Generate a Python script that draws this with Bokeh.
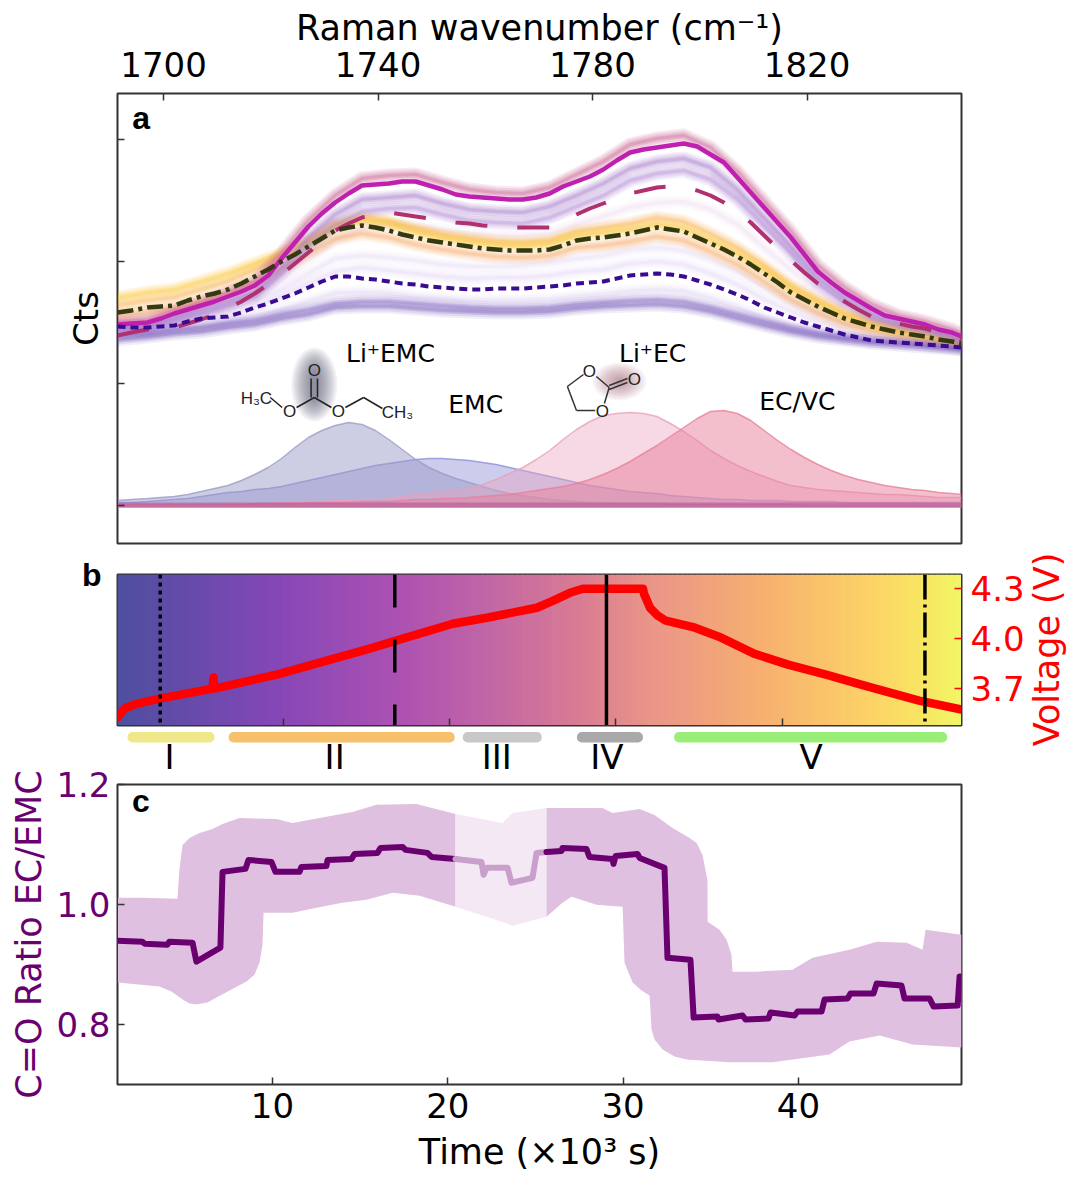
from bokeh.embed import file_html
from bokeh.layouts import column, row
from bokeh.models import BoxAnnotation, FixedTicker, Label, LinearAxis, Range1d
from bokeh.plotting import figure
from bokeh.resources import INLINE
import numpy as np

# panel a, spectra (counts, arbitrary units)
wavenumber = [1691.4, 1697, 1702, 1707, 1712, 1717, 1722, 1727, 1732, 1737, 1742, 1747, 1752, 1757, 1762, 1767, 1772,
              1777, 1782, 1787, 1792, 1797, 1802, 1807, 1812, 1817, 1822, 1827, 1832, 1837, 1842, 1847, 1848.8]
wavenumber_fine = [1691.4, 1694] + [1697 + 2.5 * i for i in range(61)] + [1848.8]
spec_solid = [181, 182, 183, 187, 192, 196, 200, 204, 209, 214, 220, 230, 247, 263, 279, 292, 303, 312, 320, 321,
              322, 324, 324, 320, 316, 311, 309, 308, 307, 306, 306, 308, 312, 319, 324, 329, 336, 345, 353, 356,
              358, 360, 362, 359, 351, 343, 328, 313, 298, 283, 268, 251, 234, 223, 213, 205, 197, 190, 187, 184,
              181, 176, 173, 169]
spec_dash = [170, 173, 176, 177, 178, 182, 186, 191, 197, 204, 212, 221, 231, 242, 253, 264, 275, 282, 288, 291,
             293, 291, 289, 287, 285, 283, 282, 280, 279, 278, 278, 278, 278, 284, 291, 297, 302, 307, 312, 315,
             318, 319, 318, 315, 310, 303, 294, 283, 270, 257, 245, 233, 222, 213, 204, 196, 189, 185, 182, 179,
             177, 173, 170, 166]
spec_dashdot = [193, 195, 198, 199, 200, 205, 209, 212, 216, 222, 229, 236, 244, 251, 259, 267, 275, 278, 280, 278,
                275, 271, 268, 265, 263, 261, 259, 257, 256, 255, 255, 255, 256, 260, 265, 267, 268, 270, 272, 275,
                278, 276, 274, 268, 262, 256, 249, 241, 232, 223, 213, 206, 199, 193, 187, 183, 179, 176, 173, 171,
                169, 166, 164, 162]
spec_dot = [179, 178, 178, 179, 180, 184, 187, 188, 189, 193, 198, 202, 207, 212, 218, 224, 229, 229, 227, 226,
            224, 222, 221, 219, 218, 217, 216, 216, 217, 217, 217, 218, 219, 220, 222, 223, 224, 227, 230, 231,
            232, 231, 229, 225, 221, 216, 211, 205, 198, 193, 188, 183, 179, 175, 171, 168, 165, 164, 163, 162,
            161, 160, 159, 158]
spec_low = [166, 169, 172, 174, 178, 181, 187, 191, 198, 199, 199, 197, 195, 194, 193, 193, 194, 197, 199, 200, 201, 199, 194, 187, 180, 174, 169, 166, 163, 161, 159, 157, 156]
spec_pink = [184, 186, 195, 203, 213, 224, 252, 285, 310, 327, 330, 331, 323, 316, 313, 312, 318, 331, 344, 361, 367, 370, 358, 334, 304, 274, 240, 218, 201, 190, 184, 176, 172]
spec_purple1 = [178, 180, 188, 196, 204, 214, 238, 268, 291, 306, 308, 310, 302, 296, 294, 293, 299, 310, 322, 337, 344, 347, 338, 316, 288, 259, 228, 208, 192, 183, 177, 170, 166]
spec_purple2 = [176, 178, 185, 192, 200, 209, 232, 259, 280, 294, 297, 298, 291, 285, 283, 282, 288, 299, 310, 325, 332, 335, 326, 306, 279, 252, 222, 203, 188, 180, 175, 168, 164]
spec_lav1 = [175, 178, 182, 189, 197, 210, 226, 246, 265, 278, 281, 279, 275, 272, 270, 270, 272, 281, 289, 298, 303, 304, 296, 281, 258, 236, 214, 197, 184, 177, 172, 166, 163]
spec_orange1 = [200, 205, 208, 216, 224, 236, 250, 264, 281, 288, 284, 277, 271, 267, 264, 263, 265, 274, 278, 282, 288, 284, 272, 258, 240, 220, 205, 192, 183, 176, 171, 166, 163]
spec_yellow = [208, 213, 216, 224, 232, 242, 252, 264, 279, 286, 282, 274, 268, 264, 261, 260, 262, 270, 273, 276, 281, 277, 265, 252, 236, 217, 203, 190, 181, 175, 170, 165, 162]
spec_orange2 = [190, 194, 197, 204, 211, 222, 237, 252, 267, 272, 268, 261, 256, 252, 249, 248, 250, 258, 260, 264, 269, 265, 254, 241, 224, 206, 193, 182, 175, 170, 166, 162, 160]
spec_lav2 = [178, 180, 184, 191, 195, 205, 216, 232, 247, 250, 248, 245, 241, 239, 239, 240, 243, 247, 250, 256, 258, 255, 246, 234, 218, 204, 192, 182, 174, 169, 165, 161, 159]
spec_lav3 = [175, 176, 180, 186, 190, 199, 209, 222, 234, 238, 235, 232, 229, 227, 228, 228, 230, 234, 236, 242, 244, 241, 232, 221, 206, 194, 184, 175, 168, 165, 162, 159, 158]
spec_lav4 = [170, 172, 175, 179, 183, 189, 196, 204, 212, 213, 212, 209, 207, 205, 205, 205, 206, 209, 211, 214, 216, 214, 207, 198, 188, 180, 173, 168, 164, 162, 160, 158, 157]
spec_purple3 = [170, 172, 176, 178, 182, 185, 191, 196, 202, 204, 204, 202, 200, 198, 197, 197, 198, 201, 203, 205, 206, 204, 198, 191, 184, 177, 172, 168, 165, 163, 161, 158, 157]

# panel a, fitted peaks
peak_li_emc = [5, 6, 7, 8, 9, 11, 14, 17, 20, 25, 31, 38, 47, 58, 68, 75, 80, 83, 81, 75,
               66, 56, 46, 38, 32, 27, 23, 19, 15, 12, 10, 8, 6, 5, 4, 3, 3, 2, 2, 2,
               2, 1, 1, 1, 1, 1, 1, 1, 1, 1, 1, 0, 0, 0, 0, 0, 0, 0, 0, 0, 0, 0, 0, 0]
peak_emc = [3, 3, 4, 5, 6, 7, 9, 11, 13, 14, 16, 17, 19, 22, 25, 28, 31, 34, 37, 40,
            42, 44, 46, 47, 47, 46, 45, 43, 41, 38, 35, 32, 29, 26, 23, 20, 18, 16, 14, 13,
            12, 10, 9, 8, 7, 6, 6, 5, 5, 5, 4, 4, 4, 4, 3, 3, 3, 3, 3, 3, 3, 3, 3, 3]
peak_li_ec = [1, 1, 1, 1, 1, 1, 1, 1, 2, 2, 2, 2, 3, 3, 4, 4, 5, 5, 6, 6,
              7, 9, 11, 12, 14, 15, 17, 21, 26, 32, 38, 46, 55, 66, 76, 84, 90, 92, 93, 92,
              89, 82, 74, 65, 55, 47, 40, 34, 29, 24, 20, 18, 16, 15, 14, 13, 12, 11, 11, 10, 9, 8, 8, 8]
peak_ec_vc = [1, 1, 1, 1, 1, 1, 1, 1, 1, 1, 2, 2, 2, 2, 3, 3, 3, 3, 4, 4,
              4, 5, 6, 6, 7, 7, 8, 9, 10, 11, 13, 15, 17, 19, 22, 26, 31, 37, 44, 52,
              60, 69, 78, 87, 94, 95, 92, 85, 75, 65, 56, 48, 41, 35, 30, 26, 23, 20, 18, 16, 15, 13, 12, 11]

# panel b, voltage profile
volt_time = [0, 0.06, 0.42, 1.2, 2.53, 5.72, 5.78, 5.84, 7.17, 9.58, 12.17, 15.18, 17.17, 20.18, 22.23, 25.24, 26.2, 27.23, 28.0,
             31.63, 31.69, 32.05, 32.5, 33.0, 34.76, 36.2, 38.31, 40.36, 42.65, 45.18, 48.25, 50.8]
volt = [3.526, 3.538, 3.58, 3.61, 3.64, 3.70, 3.766, 3.70, 3.73, 3.784, 3.856, 3.94, 4.0, 4.09, 4.126, 4.186, 4.228, 4.276, 4.30,
        4.30, 4.27, 4.186, 4.14, 4.108, 4.066, 4.012, 3.91, 3.844, 3.784, 3.712, 3.628, 3.574]
marker_time = [2.57, 16.69, 29.43, 48.6]
phase_names = ["I", "II", "III", "IV", "V"]
phase_start = [0.6, 6.69, 20.78, 27.65, 33.5]
phase_end = [5.84, 20.3, 25.54, 31.63, 49.94]
phase_mid = [3.13, 13.07, 22.83, 29.46, 41.75]

# panel c, C=O ratio
ratio_time = [1.16, 2.58, 2.70, 4.01, 4.12, 5.44, 5.66, 7.03, 7.15, 8.46, 8.63, 9.94, 10.17, 11.54, 11.65, 13.08, 13.14, 14.51,
              14.68, 15.99, 16.16, 17.42, 17.59, 18.84, 19.07, 20.44, 21.92, 22.04, 22.21, 23.41, 23.63, 24.83, 25.06, 25.63,
              26.49, 26.54, 27.91, 28.08, 29.39, 29.45, 29.57, 30.82, 30.94, 32.36, 32.53, 33.84, 34.02, 35.38, 35.44, 36.81,
              36.98, 38.29, 38.41, 39.78, 39.95, 41.32, 41.49, 42.8, 42.97, 44.28, 44.46, 45.88, 46.05, 47.48, 47.71, 49.08, 49.19, 49.3]
ratio = [.9397, .938, .9347, .933, .938, .9363, .9047, .928, 1.0544, 1.0594, 1.0743, 1.071, 1.0544, 1.0544, 1.0627, 1.0643, 1.0743, 1.076,
         1.0843, 1.086, 1.0943, 1.096, 1.091, 1.086, 1.0793, 1.076, 1.071, 1.0496, 1.0613, 1.0613, 1.0363, 1.0444, 1.086, 1.0876,
         1.0893, 1.0943, 1.0926, 1.0793, 1.076, 1.0677, 1.081, 1.0843, 1.0776, 1.061, .9112, .9081, .8117, .8133, .8083, .815,
         .8083, .81, .82, .815, .8216, .8216, .8416, .8432, .8516, .8516, .8682, .8649, .8432, .8432, .8299, .8316, .88, .88]
upper_time = [1.16, 2.58, 4.58, 4.69, 4.87, 5.27, 5.84, 6.58, 7.15, 8.12, 10.23, 11.14, 12.68, 14.56, 15.93, 18.21, 20.44, 23.12, 23.69, 25.63, 28.82,
              29.40, 30.94, 31.79, 32.82, 33.79, 34.19, 34.53, 34.81, 34.82, 35.5, 35.9, 36.18, 36.24, 37.61, 39.66, 40.8, 42.91, 44.46, 46.17, 47.08, 47.25, 49.3]
upper = [1.0111, 1.0111, 1.0095, 1.0579, 1.0993, 1.1109, 1.1193, 1.1259, 1.1342, 1.1441, 1.1425, 1.1358, 1.1441, 1.1541, 1.1661, 1.1677, 1.1508, 1.1358, 1.1525, 1.1608, 1.1608,
         1.1525, 1.1591, 1.1491, 1.1275, 1.1109, 1.1026, 1.0826, 1.041, .9713, .958, .9413, .9164, .8881, .8881, .8914, .9114, .9247, .938, .9363, .9247, .958, .9496]
lower_time = [1.16, 3.55, 4.24, 4.87, 5.27, 5.66, 6.29, 6.81, 7.66, 8.52, 8.97, 9.26, 9.43, 9.49, 11.14, 12.51, 13.99, 15.36, 16.85, 18.39, 20.44, 22.21, 23.69, 25.63,
              26.54, 27.06, 28.48, 29.97, 30.08, 30.54, 31.05, 31.51, 31.62, 31.79, 32.25, 32.93, 33.62, 36.07, 38.52, 41.77, 42.91, 44.63, 46.51, 49.3]
lower = [.8698, .8632, .8549, .8416, .8349, .8332, .8366, .8449, .8582, .8715, .8831, .9031, .933, .9864, .9864, .9947, 1.0028, 1.0078, 1.0195, 1.0145, .9962, .9796, .9646, .9796,
         1.0028, 1.013, .9997, .9963, .9031, .8698, .8567, .8482, .7917, .775, .7584, .7468, .7418, .7369, .7369, .7501, .7717, .7817, .7667, .7617]

FONT = "DejaVu Sans"
FRAME = "#333333"
LEFT, RIGHT = 117, 110
FRAME_W = 844


def style_axis(ax, size="34px", title_size="35px"):
    ax.major_tick_in = 7
    ax.major_tick_out = 0
    ax.minor_tick_line_color = None
    ax.axis_line_color = FRAME
    ax.major_tick_line_color = FRAME
    ax.major_tick_line_width = 1.5
    ax.major_label_text_font = FONT
    ax.major_label_text_font_size = size
    ax.major_label_text_color = "black"
    ax.axis_label_text_font = FONT
    ax.axis_label_text_font_size = title_size
    ax.axis_label_text_font_style = "normal"
    ax.axis_label_text_color = "black"


def panel_label(f, text, x, y):
    f.add_layout(Label(x=x, y=y, text=text, text_font="Liberation Sans", text_font_style="bold",
                       text_font_size="32px", text_align="center", text_baseline="middle", text_color="black"))


def note(f, text, x, y, size="25px", font=FONT, color="black", angle=0):
    f.add_layout(Label(x=x, y=y, text=text, text_font=font, text_font_size=size, text_color=color, angle=angle,
                       text_align="center", text_baseline="middle"))


# ---- panel a
a = figure(width=LEFT + FRAME_W + RIGHT, height=549, output_backend="svg", toolbar_location=None,
           x_range=Range1d(1691.4, 1848.8), y_range=Range1d(-38, 412),
           x_axis_location="above", min_border_left=LEFT, min_border_right=RIGHT, min_border_top=93, min_border_bottom=6)
a.grid.visible = False
a.outline_line_color = FRAME
a.outline_line_width = 2
style_axis(a.xaxis[0])
style_axis(a.yaxis[0], title_size="34px")
a.xaxis.axis_label = "Raman wavenumber (cm⁻¹)"
a.xaxis.ticker = FixedTicker(ticks=[1700, 1740, 1780, 1820])
a.xaxis.major_label_standoff = 17
a.xaxis.axis_label_standoff = 1
a.yaxis.axis_label = "Cts"
a.yaxis.axis_label_standoff = 12
a.yaxis.ticker = FixedTicker(ticks=[0, 122, 244, 366])
a.yaxis.major_label_overrides = {0: "", 122: "", 244: "", 366: ""}

faint = [(spec_lav4, "#c9b4e6", 1), (spec_lav3, "#d4c0ec", 1), (spec_lav2, "#d8c4ee", 1), (spec_lav1, "#e4c8e8", 1),
         (spec_orange2, "#f6a860", 2), (spec_orange1, "#f8b050", 2), (spec_yellow, "#fcca40", 2.4),
         (spec_purple2, "#a878d0", 1.8), (spec_purple1, "#a070c8", 2), (spec_pink, "#c85c90", 2.2),
         (spec_purple3, "#7c5cc0", 1.6), (spec_low, "#6c4cb4", 1.6)]
for series, colour, strength in faint:
    for lw, alpha in [(14, 0.06), (10, 0.08), (6, 0.09), (3, 0.12)]:
        a.line(wavenumber, series, line_color=colour, line_width=lw, line_alpha=alpha * strength, line_join="round")

a.line(wavenumber_fine, spec_solid, line_color="#c020b0", line_width=4.5, line_join="round")
a.line(wavenumber_fine, spec_dash, line_color="#b03070", line_width=4, line_dash=[32, 30])
a.line(wavenumber_fine, spec_dashdot, line_color="#333a10", line_width=4.5, line_dash=[16, 5, 4, 5])
a.line(wavenumber_fine, spec_dot, line_color="#3a0a90", line_width=4, line_dash=[8, 5])

base = np.full(len(wavenumber_fine), -2)
for peak, colour, alpha in [(peak_emc, "#8f8fd8", 0.45), (peak_li_emc, "#9c9cc8", 0.5),
                            (peak_li_ec, "#e8a0bc", 0.4), (peak_ec_vc, "#e8809c", 0.5)]:
    a.varea(wavenumber_fine, base, peak, fill_color=colour, fill_alpha=alpha)
    a.line(wavenumber_fine, peak, line_color=colour, line_width=1.5, line_alpha=0.8)
a.varea(wavenumber_fine, base, np.full(len(wavenumber_fine), 3), fill_color="#b04890", fill_alpha=0.5)

note(a, "Li⁺EMC", 1742.3, 152)
note(a, "EMC", 1758.2, 101)
note(a, "Li⁺EC", 1791.2, 152)
note(a, "EC/VC", 1818.2, 104)
panel_label(a, "a", 1695.8, 388)

# molecules with their soft highlight
for w, h in zip(np.linspace(46, 6, 12), np.linspace(74, 30, 12)):
    a.ellipse(1728.1, 121, width=w, height=h, width_units="screen", height_units="screen",
              fill_color="#444460", fill_alpha=0.07, line_color=None)
for w, h in zip(np.linspace(54, 6, 12), np.linspace(38, 6, 12)):
    a.ellipse(1785, 124, width=w, height=h, width_units="screen", height_units="screen",
              fill_color="#a0506a", fill_alpha=0.06, line_color=None)

emc_x0 = [1727.5, 1728.7, 1728.1, 1722.1, 1728.1, 1733.9, 1737.3]
emc_y0 = [127, 127, 108, 98, 108, 98, 108]
emc_x1 = [1727.5, 1728.7, 1724.8, 1719.9, 1731.3, 1737.3, 1740.8]
emc_y1 = [108, 108, 98, 108, 98, 108, 97]
a.segment(emc_x0, emc_y0, emc_x1, emc_y1, line_color="#222222", line_width=1.5)
ec_x0 = [1780.7, 1783.1, 1780.5, 1777, 1775.3, 1783.1, 1783.1]
ec_y0 = [129, 118, 95, 95, 119, 116, 120]
ec_x1 = [1783.1, 1782.2, 1777, 1775.3, 1778.3, 1786.5, 1786.5]
ec_y1 = [118, 102, 95, 119, 131, 123, 127]
a.segment(ec_x0, ec_y0, ec_x1, ec_y1, line_color="#333333", line_width=1.5)
for x, y, text in [(1728.1, 135, "O"), (1723.5, 94, "O"), (1732.6, 94, "O"), (1717.3, 107, "H₃C"), (1743.6, 93, "CH₃"),
                   (1779.4, 134, "O"), (1781.8, 94, "O"), (1787.8, 126, "O")]:
    note(a, text, x, y, size="17px", font="Liberation Sans", color="#222222")

# ---- panel b
B_RIGHT = 66
time_range = Range1d(0, 50.8)
b = figure(width=LEFT + FRAME_W + B_RIGHT, height=178, output_backend="svg", toolbar_location=None,
           x_range=time_range, y_range=Range1d(3.478, 4.386),
           y_axis_location="right", min_border_left=LEFT, min_border_right=B_RIGHT, min_border_top=25, min_border_bottom=2)
b.grid.visible = False
b.outline_line_color = FRAME
b.outline_line_width = 2
style_axis(b.xaxis[0])
style_axis(b.yaxis[0])
b.xaxis.ticker = FixedTicker(ticks=[10, 20, 30, 40])
b.xaxis.major_label_overrides = {10: "", 20: "", 30: "", 40: ""}
b.xaxis.major_label_standoff = 0
b.yaxis.ticker = FixedTicker(ticks=[3.7, 4.0, 4.3])
b.yaxis.major_label_text_color = "#ff0000"
b.yaxis.major_tick_line_color = "#ff0000"
b.yaxis.major_label_standoff = 9
b.yaxis.major_label_overrides = {3.7: "3.7", 4.0: "4.0", 4.3: "4.3"}

# the panel letter sits left of the frame, so it goes on a bare left axis
b_letter = LinearAxis(ticker=FixedTicker(ticks=[4.38]), major_label_overrides={4.38: "b"})
b_letter.major_tick_line_color = None
b_letter.minor_tick_line_color = None
b_letter.axis_line_color = None
b_letter.major_label_text_font = "Liberation Sans"
b_letter.major_label_text_font_style = "bold"
b_letter.major_label_text_font_size = "32px"
b_letter.major_label_text_color = "black"
b_letter.major_label_standoff = 10
b.add_layout(b_letter, "left")

# background colour runs with time
grad_t = [0, 9.16, 17, 23, 27.2, 32, 38.7, 44.7, 48.6, 50.8]
grad_r = [0x4f, 0x84, 0xae, 0xc5, 0xd8, 0xea, 0xf7, 0xfd, 0xf7, 0xf2]
grad_g = [0x4f, 0x47, 0x52, 0x6a, 0x7a, 0x96, 0xb0, 0xd0, 0xe8, 0xf8]
grad_b = [0xa0, 0xb7, 0xb3, 0xa3, 0x95, 0x89, 0x70, 0x68, 0x62, 0x68]
edges = np.linspace(0, 50.8, 170)
cols = ["#%02x%02x%02x" % (int(np.interp(t, grad_t, grad_r)), int(np.interp(t, grad_t, grad_g)), int(np.interp(t, grad_t, grad_b)))
        for t in edges[:-1]]
b.quad(left=edges[:-1], right=edges[1:] + 0.06, bottom=3.478, top=4.386, fill_color=cols, line_color=None)

b.line(volt_time, volt, line_color="#ff0000", line_width=8.5, line_join="round", line_cap="round")
dashes = [[4, 4], [33, 32], [], [25, 5, 3, 5]]
for t, dash in zip(marker_time, dashes):
    b.line([t, t], [4.386, 3.478], line_color="black", line_width=3.5, line_dash=dash)

# phase bars and numerals under panel b
strip = figure(width=LEFT + FRAME_W + B_RIGHT, height=52, output_backend="svg", toolbar_location=None,
               x_range=time_range, y_range=Range1d(-8, 44), x_axis_type=None, y_axis_type=None,
               min_border_left=LEFT, min_border_right=B_RIGHT, min_border_top=0, min_border_bottom=0, outline_line_color=None)
strip.grid.visible = False
for s, e, colour in zip(phase_start, phase_end, ["#eee88a", "#f7c06b", "#c8c8c8", "#a9a9a9", "#99ee77"]):
    strip.add_layout(BoxAnnotation(left=s, right=e, bottom=29, top=39.5, fill_color=colour, fill_alpha=1,
                                   line_color=None, border_radius=5))
for name, t in zip(phase_names, phase_mid):
    note(strip, name, t, 15, size="34px")

volt_title = figure(width=44, height=230, output_backend="svg", toolbar_location=None,
                    x_range=Range1d(0, 44), y_range=Range1d(0, 230), x_axis_type=None, y_axis_type=None,
                    min_border_left=0, min_border_right=0, min_border_top=0, min_border_bottom=0, outline_line_color=None)
volt_title.grid.visible = False
note(volt_title, "Voltage (V)", 19, 130, size="35px", color="#ff0000", angle=np.pi / 2)

# ---- panel c; pulled up over the empty foot of the strip so the 1.2 label has room
c = figure(width=LEFT + FRAME_W + RIGHT, height=411, output_backend="svg", toolbar_location=None,
           x_range=Range1d(1.16, 49.3), y_range=Range1d(0.7, 1.2), margin=(-16, 0, 0, 0), border_fill_color=None,
           min_border_left=LEFT, min_border_right=RIGHT, min_border_top=21, min_border_bottom=90)
c.grid.visible = False
c.outline_line_color = FRAME
c.outline_line_width = 2
style_axis(c.xaxis[0])
style_axis(c.yaxis[0])
c.xaxis.ticker = FixedTicker(ticks=[10, 20, 30, 40])
c.xaxis.axis_label = "Time (×10³ s)"
c.xaxis.major_label_standoff = 8
c.xaxis.axis_label_standoff = 11
c.yaxis.ticker = FixedTicker(ticks=[0.8, 1.0, 1.2])
c.yaxis.major_label_overrides = {0.8: "0.8", 1.0: "1.0", 1.2: "1.2"}
c.yaxis.axis_label = "C=O Ratio EC/EMC"
c.yaxis.axis_label_text_color = "#6a0070"
c.yaxis.major_label_text_color = "#6a0070"
c.yaxis.major_label_standoff = 7
c.yaxis.axis_label_standoff = 4

FADE_START, FADE_END = 20.44, 25.63
ut, ub = np.array(upper_time), np.array(upper)
lt, lb = np.array(lower_time), np.array(lower)
rt, rv = np.array(ratio_time), np.array(ratio)


def band(mask_lo, mask_hi, colour):
    um = (ut >= mask_lo) & (ut <= mask_hi)
    lm = (lt >= mask_lo) & (lt <= mask_hi)
    c.patch(np.r_[ut[um], lt[lm][::-1]], np.r_[ub[um], lb[lm][::-1]], fill_color=colour, line_color=None)


band(0, FADE_START, "#dfc0e0")
band(FADE_START, FADE_END, "#f4e8f4")
band(FADE_END, 60, "#dfc0e0")

mid = (rt >= FADE_START) & (rt <= FADE_END)
left = rt <= FADE_START
right = rt >= FADE_END
c.line(rt[left], rv[left], line_color="#6a0070", line_width=6, line_join="round", line_cap="round")
c.line(rt[mid], rv[mid], line_color="#c9a0cc", line_width=6, line_join="round", line_cap="round")
c.line(rt[right], rv[right], line_color="#6a0070", line_width=6, line_join="round", line_cap="round")
panel_label(c, "c", 2.5, 1.172)

page = column(a, row(column(b, strip, spacing=0), volt_title, spacing=0), c, spacing=0)
open("out.html", "w").write(file_html(page, INLINE))
